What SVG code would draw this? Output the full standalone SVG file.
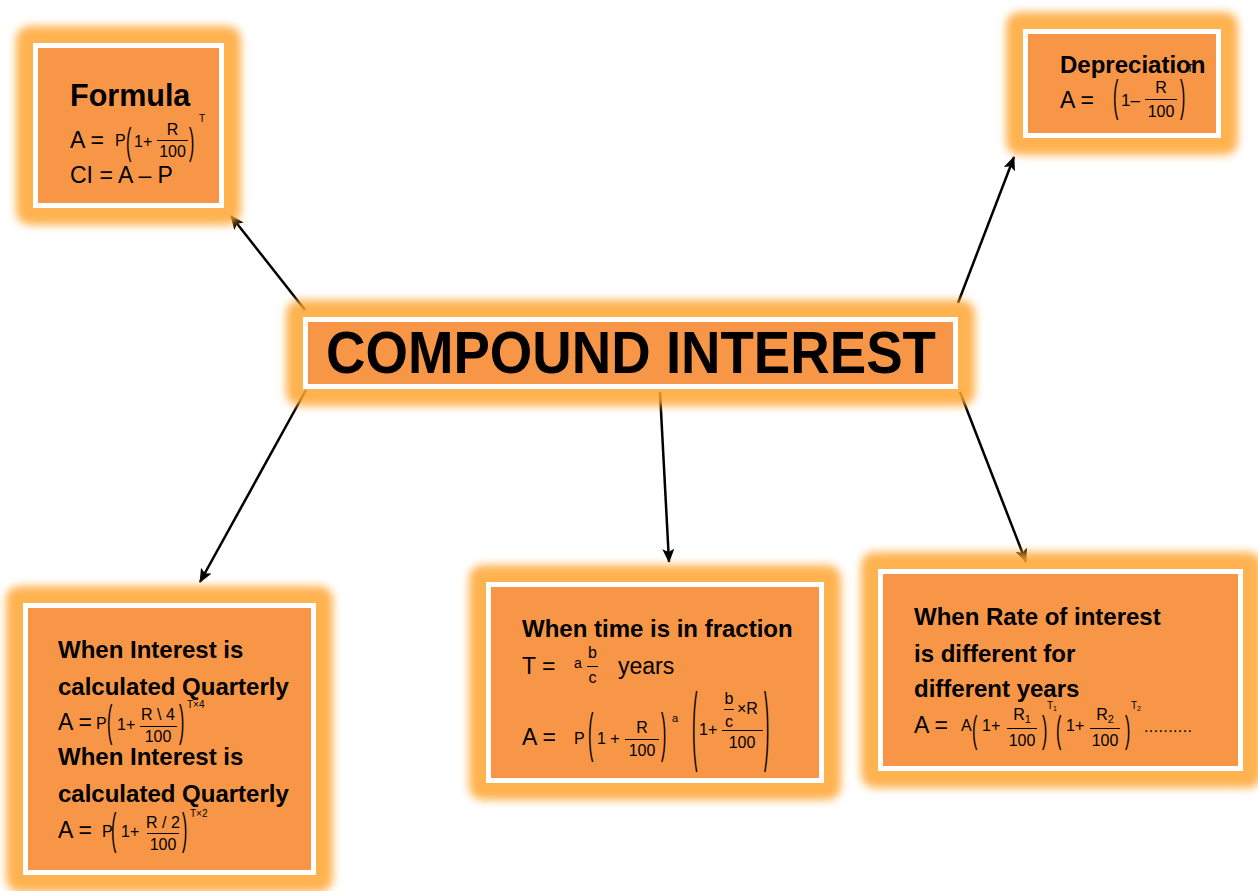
<svg xmlns="http://www.w3.org/2000/svg" width="1258" height="891" viewBox="0 0 1258 891">
<defs>
  <filter id="fz" x="-15%" y="-15%" width="130%" height="130%">
    <feGaussianBlur stdDeviation="4"/>
  </filter>
  <marker id="ah" markerUnits="userSpaceOnUse" markerWidth="14" markerHeight="12" refX="13" refY="6" orient="auto">
    <path d="M0,0 L14,6 L0,12 L3,6 Z" fill="#000"/>
  </marker>
</defs>
<style>
  .glow{fill:#FFA530;filter:url(#fz);opacity:0.85}
  .box{fill:#F79646;stroke:#FFFFFF;stroke-width:5}
  text{font-family:"Liberation Sans",Arial,sans-serif;fill:#000}
  .b{font-weight:bold;font-size:24px}
  .r{font-size:23px}
  .m{font-size:16px}
  .s{font-size:10px}
  .c{text-anchor:middle}
  .bar{stroke:#000;stroke-width:1}
  .p{font-size:16px}
  .edge{stroke:#000;stroke-width:2.5;fill:none;marker-end:url(#ah)}
</style>
<rect width="1258" height="891" fill="#FFFFFF"/>

<g id="connectors">
  <line class="edge" x1="305" y1="310" x2="231" y2="216"/>
  <line class="edge" x1="958" y1="303" x2="1014" y2="157"/>
  <line class="edge" x1="306" y1="390" x2="200" y2="582"/>
  <line class="edge" x1="660" y1="392" x2="669" y2="562"/>
  <line class="edge" x1="960" y1="392" x2="1026" y2="562"/>
</g>

<g id="formula">
  <rect class="glow" x="16" y="26" width="225" height="199" rx="14"/>
  <rect class="box" x="35.5" y="45.5" width="186" height="160"/>
  <text x="70" y="106" style="font-weight:bold;font-size:30.5px">Formula</text>
  <text class="r" x="70" y="148">A =</text>
  <text class="m" x="115" y="146">P</text>
  <text class="p" transform="translate(126,154) scale(1,2.32)">(</text>
  <text class="m" x="134" y="147">1+</text>
  <text class="m c" x="172.5" y="135">R</text>
  <line class="bar" x1="157" y1="140.5" x2="188" y2="140.5"/>
  <text class="m c" x="172.5" y="157">100</text>
  <text class="p" transform="translate(189,154) scale(1,2.32)">)</text>
  <text class="s" x="199" y="122">T</text>
  <text class="r" x="70" y="183">CI = A – P</text>
</g>

<g id="depreciation">
  <rect class="glow" x="1006" y="12" width="232" height="143" rx="14"/>
  <rect class="box" x="1025.5" y="31.5" width="193" height="104"/>
  <text class="b" x="1060" y="73">Depreciation</text>
  <text class="r" x="1060" y="108">A =</text>
  <text class="p" transform="translate(1113,111) scale(1,2.8)">(</text>
  <text style="font-size:17px" x="1121" y="106">1–</text>
  <text class="m c" x="1161" y="93">R</text>
  <line class="bar" x1="1145" y1="99.5" x2="1177" y2="99.5"/>
  <text class="m c" x="1161" y="117">100</text>
  <text class="p" transform="translate(1180,111) scale(1,2.8)">)</text>
  <text class="s" x="1187" y="72">T</text>
</g>

<g id="compound-interest">
  <rect class="glow" x="286" y="300" width="689" height="106" rx="14"/>
  <rect class="box" x="305.5" y="319.5" width="650" height="67"/>
  <text x="326" y="373" style="font-weight:bold;font-size:60px" textLength="610" lengthAdjust="spacingAndGlyphs">COMPOUND INTEREST</text>
</g>

<g id="quarterly">
  <rect class="glow" x="6" y="586" width="327" height="306" rx="14"/>
  <rect class="box" x="25.5" y="605.5" width="288" height="267"/>
  <text class="b" x="58" y="658">When Interest is</text>
  <text class="b" x="58" y="695">calculated Quarterly</text>
  <text class="r" x="58" y="730">A =</text>
  <text class="m" x="96" y="729">P</text>
  <text class="p" transform="translate(107,735.5) scale(1,2.78)">(</text>
  <text class="m" x="117" y="730">1+</text>
  <text class="m c" x="158" y="720">R \ 4</text>
  <line class="bar" x1="140" y1="726.5" x2="177" y2="726.5"/>
  <text class="m c" x="158" y="742">100</text>
  <text class="p" transform="translate(179,735.5) scale(1,2.78)">)</text>
  <text class="s" x="187" y="708">T×4</text>
  <text class="b" x="58" y="765">When Interest is</text>
  <text class="b" x="58" y="802">calculated Quarterly</text>
  <text class="r" x="58" y="838">A =</text>
  <text class="m" x="102" y="837">P</text>
  <text class="p" transform="translate(111,844) scale(1,2.72)">(</text>
  <text class="m" x="121" y="837">1+</text>
  <text class="m c" x="163" y="828">R / 2</text>
  <line class="bar" x1="147" y1="833.5" x2="179" y2="833.5"/>
  <text class="m c" x="163" y="850">100</text>
  <text class="p" transform="translate(182,844) scale(1,2.72)">)</text>
  <text class="s" x="190" y="817">T×2</text>
</g>

<g id="fraction">
  <rect class="glow" x="469" y="565" width="372" height="235" rx="14"/>
  <rect class="box" x="488.5" y="584.5" width="333" height="196"/>
  <text class="b" x="522" y="637">When time is in fraction</text>
  <text class="r" x="522" y="674">T =</text>
  <text style="font-size:14px" x="574" y="668">a</text>
  <text class="m c" x="592.5" y="658">b</text>
  <line class="bar" x1="587" y1="666.5" x2="598" y2="666.5"/>
  <text class="m c" x="592.5" y="683">c</text>
  <text class="r" x="618" y="674">years</text>
  <text class="r" x="522" y="745">A =</text>
  <text class="m" x="574" y="744">P</text>
  <text class="p" transform="translate(588,750.7) scale(1,3.31)">(</text>
  <text class="m" x="597" y="744">1 +</text>
  <text class="m c" x="642" y="733">R</text>
  <line class="bar" x1="625" y1="739.5" x2="659" y2="739.5"/>
  <text class="m c" x="642" y="756">100</text>
  <text class="p" transform="translate(661,750.7) scale(1,3.31)">)</text>
  <text style="font-size:11px" x="672" y="722">a</text>
  <text class="p" transform="translate(692,753.5) scale(1,5.43)">(</text>
  <text class="m" x="699" y="735">1+</text>
  <text class="m c" x="729" y="704">b</text>
  <line class="bar" x1="724" y1="709.5" x2="734" y2="709.5"/>
  <text class="m c" x="729" y="727">c</text>
  <text class="m" x="737" y="714">×R</text>
  <line class="bar" x1="722" y1="730.5" x2="763" y2="730.5"/>
  <text class="m c" x="742" y="748">100</text>
  <text class="p" transform="translate(764,753.5) scale(1,5.43)">)</text>
</g>

<g id="different-rates">
  <rect class="glow" x="861" y="552" width="401" height="236" rx="14"/>
  <rect class="box" x="880.5" y="571.5" width="360" height="197"/>
  <text class="b" x="914" y="625">When Rate of interest</text>
  <text class="b" x="914" y="662">is different for</text>
  <text class="b" x="914" y="697">different years</text>
  <text class="r" x="914" y="733">A =</text>
  <text class="m" x="961" y="731">A</text>
  <text class="p" transform="translate(972,742) scale(1,2.32)">(</text>
  <text class="m" x="982" y="731">1+</text>
  <text class="m c" x="1022" y="720">R<tspan style="font-size:11px" dy="3">1</tspan></text>
  <line class="bar" x1="1007" y1="728.5" x2="1037" y2="728.5"/>
  <text class="m c" x="1022" y="746">100</text>
  <text class="p" transform="translate(1042,742) scale(1,2.32)">)</text>
  <text class="s" x="1047" y="709">T<tspan style="font-size:7px" dy="2">1</tspan></text>
  <text class="p" transform="translate(1056,742) scale(1,2.32)">(</text>
  <text class="m" x="1066" y="731">1+</text>
  <text class="m c" x="1105" y="720">R<tspan style="font-size:11px" dy="3">2</tspan></text>
  <line class="bar" x1="1090" y1="728.5" x2="1120" y2="728.5"/>
  <text class="m c" x="1105" y="746">100</text>
  <text class="p" transform="translate(1125,742) scale(1,2.32)">)</text>
  <text class="s" x="1131" y="709">T<tspan style="font-size:7px" dy="2">2</tspan></text>
  <text class="m" x="1144" y="732" textLength="48" lengthAdjust="spacing">..........</text>
</g>
</svg>
